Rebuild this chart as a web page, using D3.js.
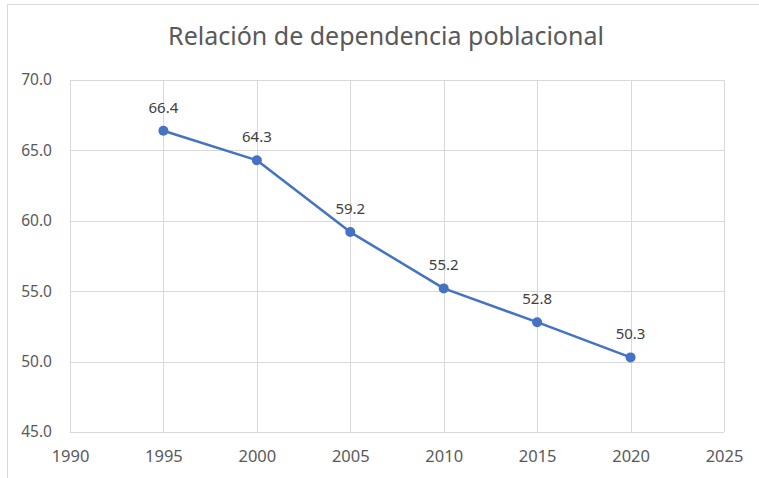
<!DOCTYPE html>
<html>
<head>
<meta charset="utf-8">
<script src="https://cdn.jsdelivr.net/npm/d3@7"></script>
<style>
	body { margin: 0; background: #fff; }
	svg { display: block; font-family: "Noto Sans", "Open Sans", sans-serif; }
</style>
</head>
<body>
<svg id="canvas" width="759" height="478"></svg>
<script>
var title = "Relación de dependencia poblacional";
var years = [1995, 2000, 2005, 2010, 2015, 2020];
var ratio = [66.4, 64.3, 59.2, 55.2, 52.8, 50.3];
var xTicks = [1990, 1995, 2000, 2005, 2010, 2015, 2020, 2025];
var yTicks = [45, 50, 55, 60, 65, 70];

function draw(){
	var svg = d3.select("#canvas");
	var left = 70, right = 724, top = 80, bottom = 432;

	var x = d3.scaleLinear().domain([1990, 2025]).range([left, right]);
	var y = d3.scaleLinear().domain([45, 70]).range([bottom, top]);

	// chart frame, cut off at right and bottom
	svg.append("path")
		.attr("d", "M7.5,478 L7.5,4.5 L759,4.5")
		.attr("style", "fill: none; stroke: #d9d9d9; stroke-width: 1;");

	svg.append("text")
		.attr("x", 386)
		.attr("y", 45)
		.attr("text-anchor", "middle")
		.attr("style", "font-size: 25px; fill: #595959;")
		.text(title);

	// grid
	svg.append("g")
		.attr("transform", "translate(0," + bottom + ")")
		.call(d3.axisBottom(x).tickValues(xTicks).tickSize(top - bottom).tickFormat(d3.format("d")).tickPadding(18))
		.call(function(g){
			g.select(".domain").remove();
			g.selectAll("line").attr("stroke", "#d9d9d9").attr("shape-rendering", "crispEdges");
			g.selectAll("text").attr("fill", "#595959").style("font-size", "16.5px").style("font-family", "\"Noto Sans\", sans-serif");
		});

	svg.append("g")
		.attr("transform", "translate(" + left + ",0)")
		.call(d3.axisLeft(y).tickValues(yTicks).tickSize(left - right).tickFormat(d3.format(".1f")).tickPadding(18))
		.call(function(g){
			g.select(".domain").remove();
			g.selectAll("line").attr("stroke", "#d9d9d9").attr("shape-rendering", "crispEdges");
			g.selectAll("text").attr("fill", "#595959").style("font-size", "15.5px").style("font-family", "\"Noto Sans\", sans-serif");
		});

	var pts = years.map(function(d, i){ return [x(d), y(ratio[i])]; });

	svg.append("path")
		.attr("d", d3.line()(pts))
		.attr("style", "fill: none; stroke: #4472c4; stroke-width: 2.5; stroke-linejoin: round;");

	svg.selectAll("circle.pt")
		.data(pts)
		.enter()
		.append("circle")
		.attr("class", "pt")
		.attr("cx", function(d){ return d[0]; })
		.attr("cy", function(d){ return d[1]; })
		.attr("r", 5)
		.attr("fill", "#4472c4");

	svg.selectAll("text.lbl")
		.data(ratio)
		.enter()
		.append("text")
		.attr("class", "lbl")
		.attr("x", function(d, i){ return x(years[i]); })
		.attr("y", function(d){ return y(d) - 18; })
		.attr("text-anchor", "middle")
		.attr("style", "font-size: 15px; fill: #404040;")
		.text(function(d){ return d.toFixed(1); });
}

draw();
</script>
</body>
</html>
